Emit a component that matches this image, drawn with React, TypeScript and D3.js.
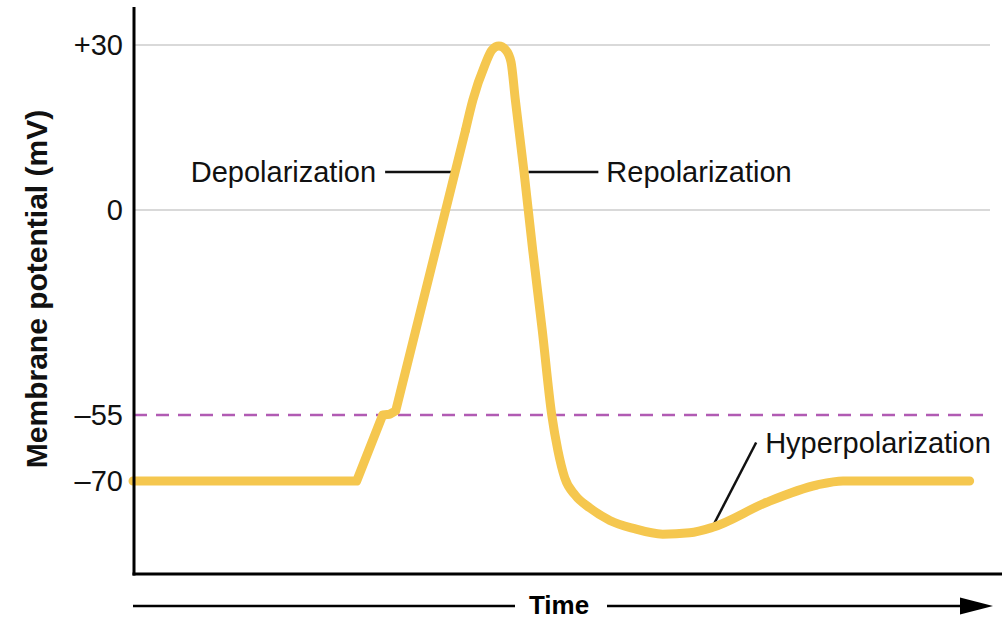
import React from 'react';
import * as d3 from 'd3';

// schematic action potential, time in arbitrary units, voltage in mV
// rising phase (straight segments)
const riseTimes = [0, 25.8, 28.8, 29.6, 30.3, 38.35];
const riseVolts = [-70, -70, -55, -54.8, -53.9, 14.5];
// peak, falling phase and after-hyperpolarization (smooth)
const fallTimes = [38.35, 39.2, 40.6, 41.4, 42.2, 43.0, 43.6, 44.1, 45.1, 46.1, 47.2, 48.3, 49.0, 49.8, 51.0, 52.7, 55.0, 57.7, 61.1, 64.2, 66.8, 73.1, 78.9, 81.9, 96.5];
const fallVolts = [14.5, 20, 26.4, 29.1, 29.8, 29.1, 26.9, 20, 6.9, -10.7, -32.2, -55, -63, -69.3, -73.2, -76.1, -78.9, -80.7, -82.0, -81.7, -80.5, -74.8, -70.9, -70, -70];

const tickValues = [30, 0, -55, -70];
const tickLabels = ['+30', '0', '–55', '–70'];
const gridValues = [30, 0];
const thresholdValue = -55;

// annotations: label, anchor point on the curve (time, mV)
const annotations = [
  { label: 'Depolarization', t: 37.5, v: 6.9, side: 'left' },
  { label: 'Repolarization', t: 45.6, v: 6.9, side: 'right' },
];
const hyper = { label: 'Hyperpolarization', t: 66.8, v: -80.5 };

const W = 1004;
const H = 620;
const FONT = '"Liberation Sans", Arial, Helvetica, sans-serif';

export default function App() {
  const x = d3.scaleLinear().domain([0, 100]).range([133, 1000]);
  // the axis is schematic, so use a piecewise scale
  const y = d3.scaleLinear()
    .domain([-91, -70, -55, 0, 30, 37])
    .range([574, 481, 415, 210, 45, 6.5]);

  const rise: [number, number][] = riseTimes.map((t, i) => [t, riseVolts[i]]);
  const fall: [number, number][] = fallTimes.map((t, i) => [t, fallVolts[i]]);
  const lineLin = d3.line<[number, number]>().x(d => x(d[0])).y(d => y(d[1]));
  const lineSmooth = d3.line<[number, number]>()
    .x(d => x(d[0]))
    .y(d => y(d[1]))
    .curve(d3.curveMonotoneX);

  const axisX = 134;
  const axisY = 574;
  const gridEnd = 990;
  const curveStyle = { fill: 'none', stroke: '#f5c74f', strokeWidth: 9, strokeLinecap: 'round' as const, strokeLinejoin: 'round' as const };

  return (
    <svg width={W} height={H} style={{ position: 'absolute', left: 0, top: 0, background: '#fff' }} fontFamily={FONT}>
      {/* grid */}
      {gridValues.map(v => (
        <line key={v} x1={axisX} x2={gridEnd} y1={y(v)} y2={y(v)} stroke="#d9d9d9" strokeWidth={2} />
      ))}
      <line x1={axisX} x2={gridEnd} y1={y(thresholdValue)} y2={y(thresholdValue)}
        stroke="#b15bb3" strokeWidth={2.5} strokeDasharray="13 9" />

      {/* y tick labels */}
      {tickValues.map((v, i) => (
        <text key={v} x={123} y={y(v)} dy="0.36em" textAnchor="end" fontSize={29} fill="#111">{tickLabels[i]}</text>
      ))}

      {/* y title */}
      <text transform={`translate(47,289) rotate(-90)`} textAnchor="middle" fontSize={30} fontWeight="bold" fill="#111">
        Membrane potential (mV)
      </text>

      {/* annotation leaders */}
      {annotations.map(a => {
        const px = x(a.t);
        const py = y(a.v);
        const x1 = a.side === 'left' ? px - 73 : px + 70;
        return (
          <g key={a.label}>
            <line x1={x1} x2={px} y1={py} y2={py} stroke="#111" strokeWidth={2.5} />
            <text x={a.side === 'left' ? x1 - 9 : x1 + 8} y={py} dy="0.36em"
              textAnchor={a.side === 'left' ? 'end' : 'start'} fontSize={29} fill="#111">{a.label}</text>
          </g>
        );
      })}
      <line x1={x(hyper.t)} y1={y(hyper.v)} x2={x(hyper.t) + 44} y2={y(hyper.v) - 85} stroke="#111" strokeWidth={2.5} />
      <text x={x(hyper.t) + 53} y={y(hyper.v) - 85} dy="0.36em" fontSize={29} fill="#111">{hyper.label}</text>

      {/* curve */}
      <path d={lineLin(rise) || ''} {...curveStyle} />
      <path d={lineSmooth(fall) || ''} {...curveStyle} />

      {/* axes */}
      <line x1={axisX} x2={axisX} y1={7} y2={axisY + 1.5} stroke="#000" strokeWidth={3} />
      <line x1={axisX - 1.5} x2={1002} y1={axisY} y2={axisY} stroke="#000" strokeWidth={3} />

      {/* time arrow */}
      <line x1={133} x2={515} y1={606} y2={606} stroke="#000" strokeWidth={2.5} />
      <text x={559} y={605} dy="0.35em" textAnchor="middle" fontSize={26} fontWeight="bold" fill="#000">Time</text>
      <line x1={607} x2={965} y1={606} y2={606} stroke="#000" strokeWidth={2.5} />
      <path d="M960,597.5 L993,606 L960,614.5 Z" fill="#000" />
    </svg>
  );
}
